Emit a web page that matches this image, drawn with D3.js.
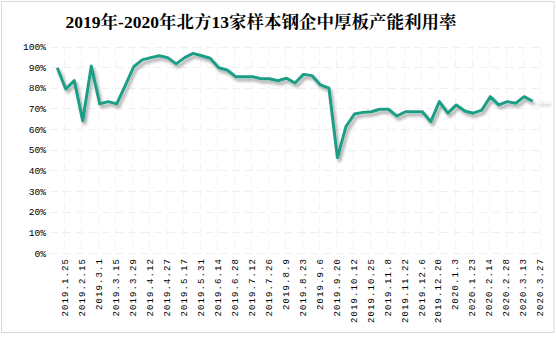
<!DOCTYPE html>
<html>
<head>
<meta charset="utf-8">
<script src="https://cdn.jsdelivr.net/npm/d3@7"></script>
<style>
  html, body { margin: 0; padding: 0; background: #fff; }
  svg { display: block; }
</style>
</head>
<body>
<svg id="chart" width="556" height="340"></svg>
<script>
// ---- data ----
const title = "2019年-2020年北方13家样本钢企中厚板产能利用率";
const categories = [
  "2019.1.25","2019.2.1","2019.2.15","2019.2.22","2019.3.1","2019.3.8","2019.3.15","2019.3.22",
  "2019.3.29","2019.4.4","2019.4.12","2019.4.19","2019.4.27","2019.5.10","2019.5.17","2019.5.24",
  "2019.5.31","2019.6.6","2019.6.14","2019.6.21","2019.6.28","2019.7.5","2019.7.12","2019.7.19",
  "2019.7.26","2019.8.2","2019.8.9","2019.8.16","2019.8.23","2019.8.30","2019.9.6","2019.9.12",
  "2019.9.20","2019.9.27","2019.10.12","2019.10.18","2019.10.25","2019.11.1","2019.11.8","2019.11.15",
  "2019.11.22","2019.11.29","2019.12.6","2019.12.13","2019.12.20","2019.12.27","2020.1.3","2020.1.10",
  "2020.1.23","2020.2.7","2020.2.14","2020.2.21","2020.2.28","2020.3.6","2020.3.13","2020.3.20","2020.3.27"
];
const values = [
  0.897,0.794,0.835,0.640,0.905,0.722,0.733,0.722,
  0.810,0.902,0.935,0.946,0.955,0.946,0.916,0.946,
  0.967,0.955,0.943,0.897,0.886,0.854,0.854,0.854,
  0.844,0.844,0.834,0.846,0.823,0.865,0.859,0.814,
  0.798,0.462,0.612,0.673,0.681,0.684,0.696,0.696,
  0.663,0.684,0.684,0.684,0.636,0.733,0.677,0.717,
  0.688,0.677,0.692,0.757,0.717,0.733,0.725,0.757,0.735
];
const tickLabels = categories.filter((d, i) => i % 2 === 0);
const yTicks = [0,0.1,0.2,0.3,0.4,0.5,0.6,0.7,0.8,0.9,1.0];
const lastLabel = "73%";

// ---- layout ----
const svg = d3.select("#chart");
const W = 556, H = 340;

svg.append("rect").attr("x", 1.5).attr("y", 1.5).attr("width", 552.5).attr("height", 331)
  .attr("fill", "#fff").attr("stroke", "#d9d9d9").attr("stroke-width", 1);

const defs = svg.append("defs");
const f = defs.append("filter").attr("id", "shadow")
  .attr("x", "-10%").attr("y", "-10%").attr("width", "130%").attr("height", "140%");
f.append("feDropShadow").attr("dx", 2).attr("dy", 3).attr("stdDeviation", 1.8)
  .attr("flood-color", "#000").attr("flood-opacity", 0.35);

const x = d3.scalePoint().domain(categories).range([57.3, 532.7]);
const y = d3.scaleLinear().domain([0, 1]).range([253, 46.5]);

// gridlines (faint, dashed)
svg.append("g").selectAll("line").data(yTicks).join("line")
  .attr("x1", 50).attr("x2", 540)
  .attr("y1", d => Math.round(y(d)) + 0.5).attr("y2", d => Math.round(y(d)) + 0.5)
  .attr("stroke", "#efefef").attr("stroke-dasharray", "8,5");
svg.append("g").selectAll("line").data(tickLabels).join("line")
  .attr("x1", d => Math.round(x(d) + 7) + 0.5).attr("x2", d => Math.round(x(d) + 7) + 0.5)
  .attr("y1", 46.5).attr("y2", 253)
  .attr("stroke", "#f3f3f3").attr("stroke-dasharray", "8,5");

// title
svg.append("text")
  .attr("x", 261).attr("y", 28)
  .attr("text-anchor", "middle")
  .attr("font-family", "'Liberation Serif', 'Noto Serif CJK SC', 'Noto Sans CJK SC', serif")
  .attr("font-weight", "bold")
  .attr("font-size", 17.5)
  .attr("fill", "#000")
  .text(title);

// y axis
const yAxis = svg.append("g").attr("transform", "translate(47,0)")
  .call(d3.axisLeft(y).tickValues(yTicks).tickSize(0).tickPadding(1).tickFormat(d3.format(".0%")));
yAxis.select(".domain").remove();
yAxis.selectAll("text")
  .attr("font-family", "'Liberation Mono', 'DejaVu Sans Mono', monospace")
  .attr("font-size", 9.6).attr("fill", "#000");

// x axis
const xAxis = svg.append("g").attr("transform", "translate(7,258)")
  .call(d3.axisBottom(x).tickValues(tickLabels).tickSize(0).tickPadding(0));
xAxis.select(".domain").remove();
xAxis.selectAll("text")
  .attr("font-family", "'Liberation Mono', 'DejaVu Sans Mono', monospace")
  .attr("font-size", 9)
  .attr("letter-spacing", 1.1)
  .attr("fill", "#000")
  .attr("text-anchor", "end")
  .attr("dy", "0.35em")
  .attr("transform", "rotate(-90)")
  .attr("x", 0).attr("y", 0);

// line
const line = d3.line().x((d, i) => x(categories[i])).y(d => y(d));
svg.append("path")
  .datum(values)
  .attr("d", line)
  .attr("fill", "none")
  .attr("stroke", "#1f9d86")
  .attr("stroke-width", 3)
  .attr("stroke-linejoin", "round")
  .attr("filter", "url(#shadow)");

// last data label
const li = values.length - 1;
svg.append("text")
  .attr("x", x(categories[li]) + 2).attr("y", y(values[li]) + 3)
  .attr("font-family", "'Liberation Sans', sans-serif")
  .attr("font-size", 7)
  .attr("fill", "#ffffff")
  .attr("filter", "url(#shadow)")
  .text(lastLabel);
</script>
</body>
</html>
